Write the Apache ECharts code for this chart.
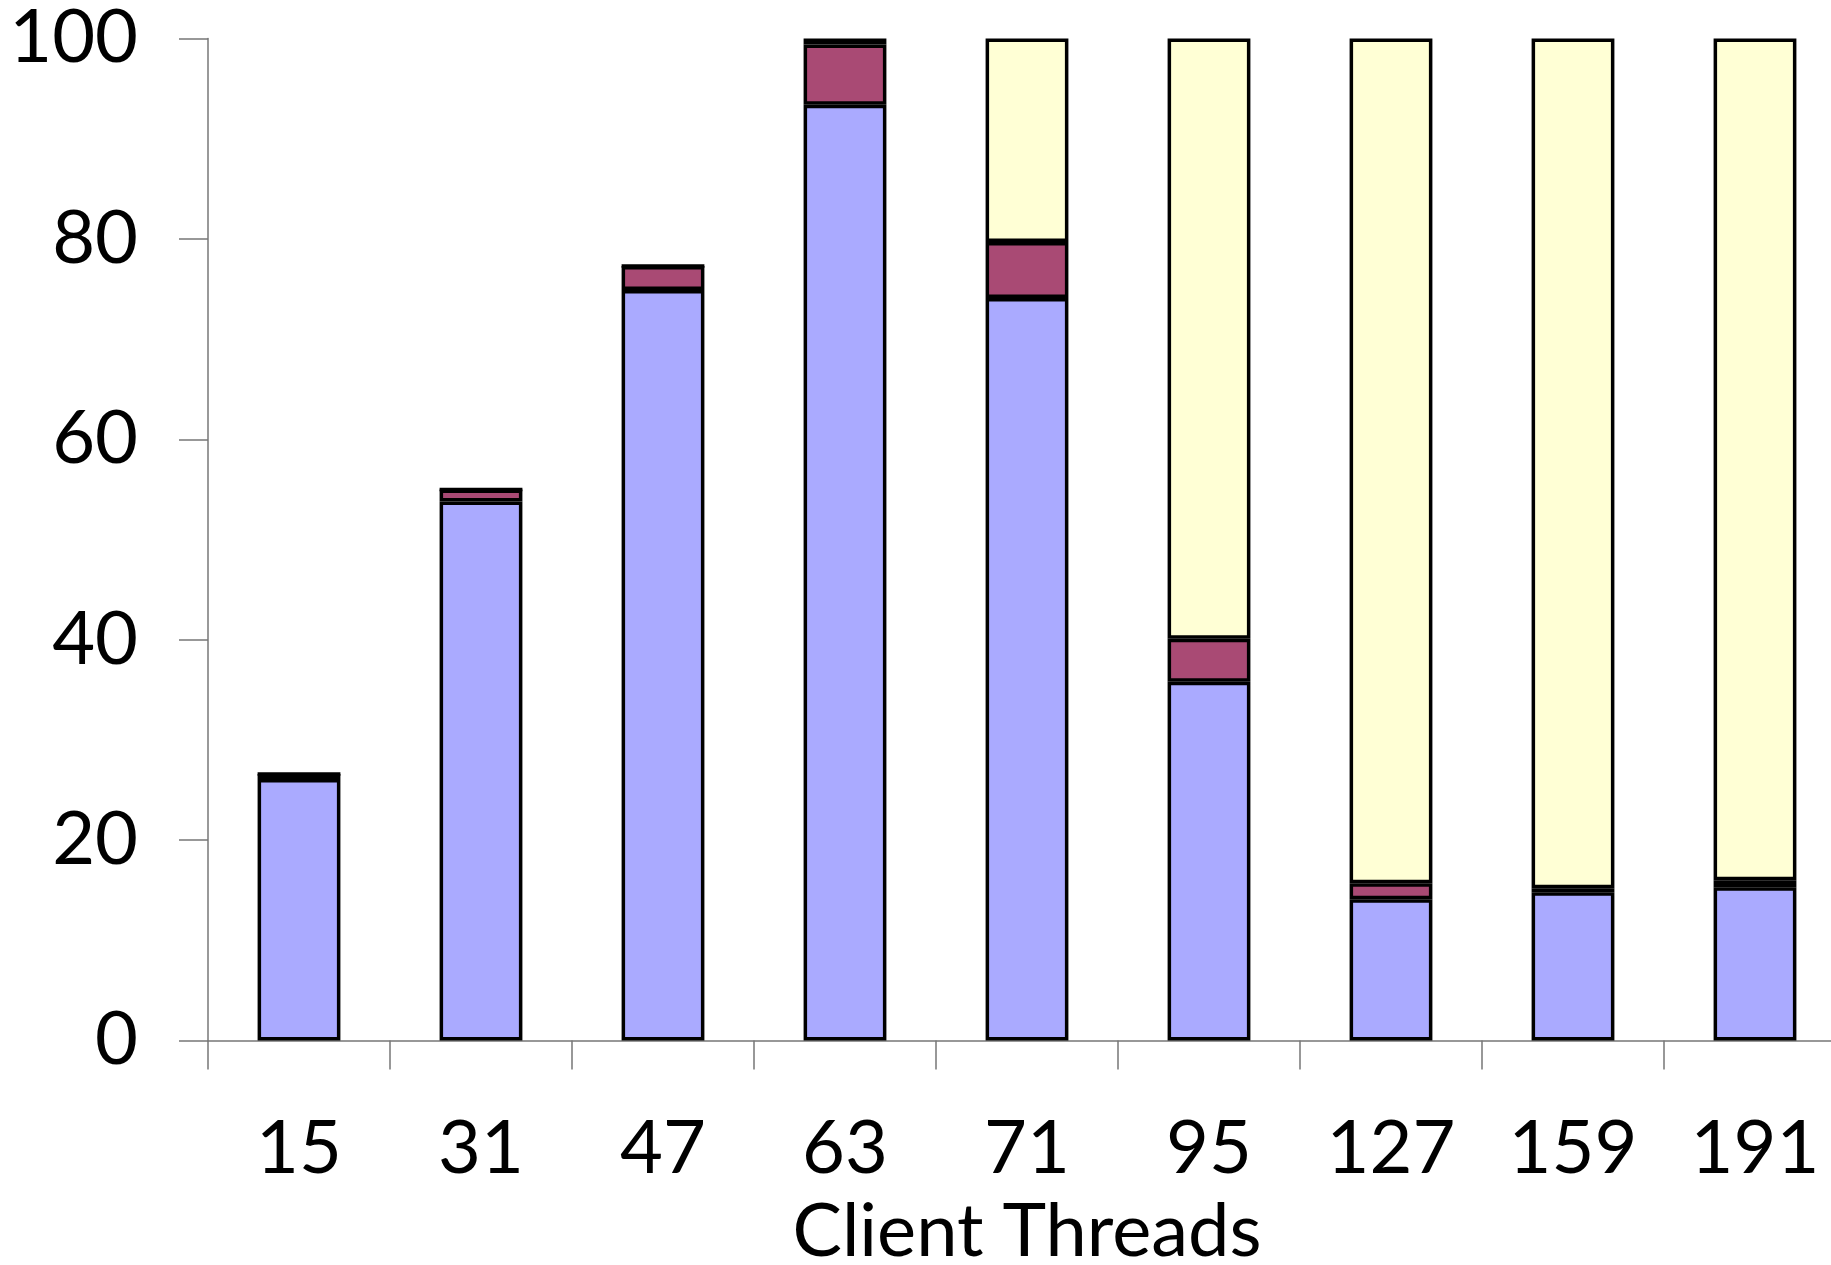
<!DOCTYPE html>
<html>
<head>
<meta charset="utf-8">
<script src="https://cdn.jsdelivr.net/npm/echarts@6/dist/echarts.min.js"></script>
<style>
html,body{margin:0;padding:0;background:#fff;}
#chart{width:1831px;height:1265px;}
</style>
</head>
<body>
<div id="chart"></div>
<script>
const categories = ['15','31','47','63','71','95','127','159','191'];
const blueValues = [26.1, 53.8, 74.9, 93.4, 74.1, 35.8, 14.1, 14.8, 15.3];
const redValues = [0.5, 1.2, 2.4, 6.0, 5.6, 4.3, 1.6, 0.4, 0.7];
const yellowValues = [0, 0, 0, 0.6, 20.3, 59.9, 84.3, 84.8, 84.0];
const yTicks = [0, 20, 40, 60, 80, 100];
const xTitle = 'Client Threads';

const chart = echarts.init(document.getElementById('chart'), null, {renderer:'canvas'});
const font = 'Lato';
const border = {borderColor:'#000', borderWidth:3.5};
function seriesOf(name, data, color){
  return {
    name, type:'bar', stack:'total', data,
    barWidth:'45.5%',
    itemStyle:Object.assign({color}, border),
    emphasis:{disabled:true}
  };
}
chart.setOption({
  animation:false,
  backgroundColor:'#fff',
  grid:{left:208, top:38.5, bottom:224.5, right:-15, containLabel:false, outerBoundsMode:'none'},
  xAxis:{
    type:'category', data:categories,
    axisLine:{show:true, lineStyle:{color:'#777', width:1.5}},
    axisTick:{show:true, inside:false, length:29, alignWithLabel:false, lineStyle:{color:'#777', width:1.5}},
    axisLabel:{fontFamily:font, fontSize:74, color:'#000', margin:72},
    name:xTitle, nameLocation:'middle', nameGap:155,
    nameTextStyle:{fontFamily:font, fontSize:74, color:'#000'}
  },
  yAxis:{
    type:'value', min:yTicks[0], max:yTicks[yTicks.length-1], interval:20,
    axisLine:{show:true, lineStyle:{color:'#777', width:1.5}},
    axisTick:{show:true, inside:false, length:29, lineStyle:{color:'#777', width:1.5}},
    axisLabel:{fontFamily:font, fontSize:74, color:'#000', margin:70},
    splitLine:{show:false}
  },
  series:[
    seriesOf('A', blueValues, '#AAAAFF'),
    seriesOf('B', redValues, '#A94A74'),
    seriesOf('C', yellowValues, '#FFFFD5')
  ]
});
</script>
</body>
</html>
